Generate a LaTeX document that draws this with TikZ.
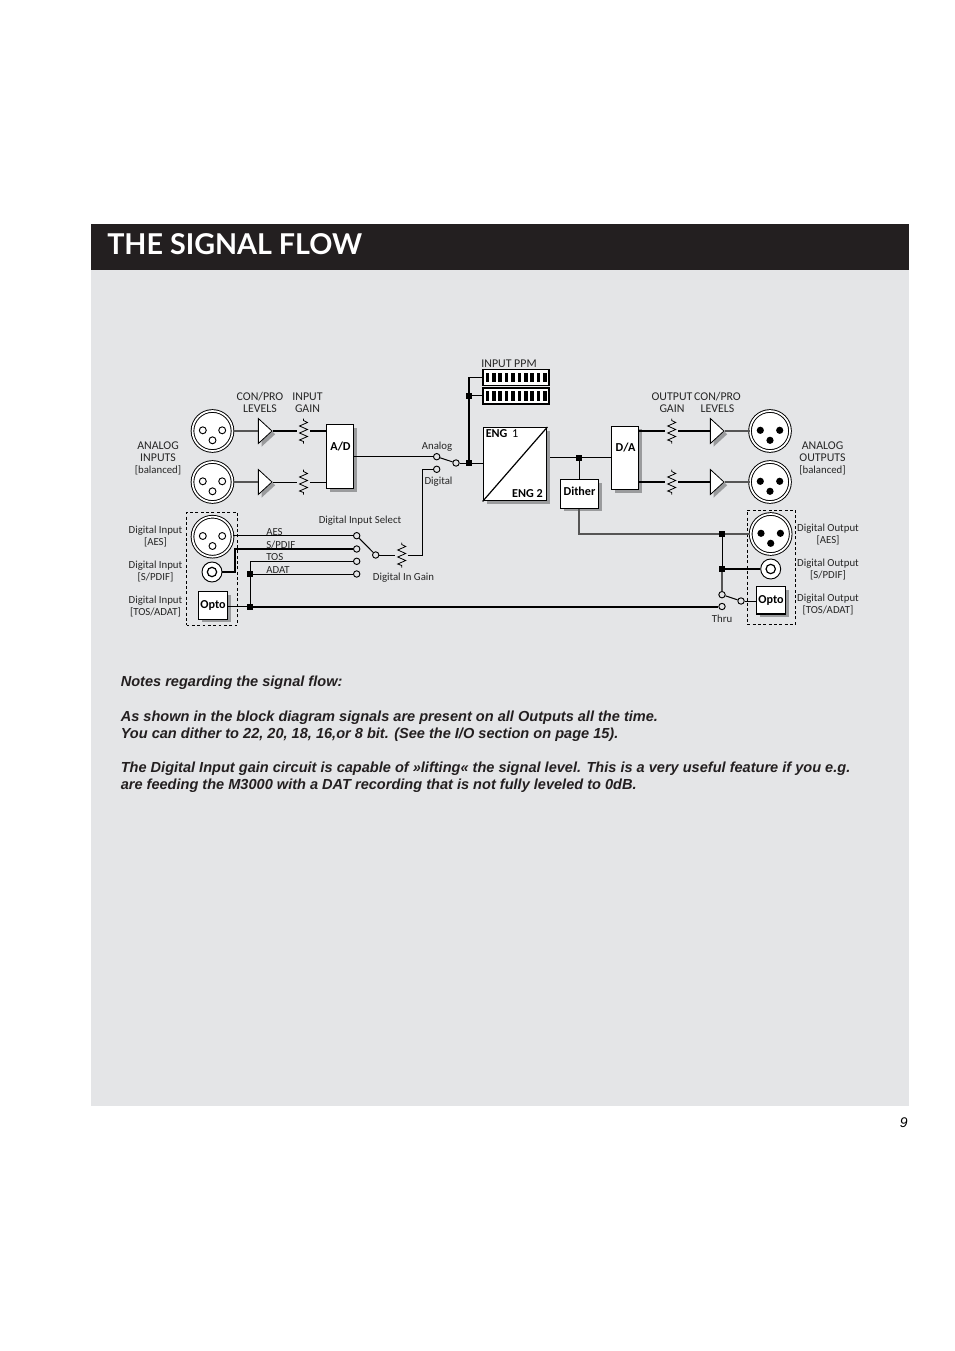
\documentclass[tikz,border=0pt]{standalone}
\usepackage{fontspec}
\setmainfont{Carlito}
\newfontfamily\notefont{Liberation Sans}
\newfontfamily\titlefont{Lato}
\usetikzlibrary{shapes.geometric,shadows,calc}
\definecolor{panel}{HTML}{E4E5E7}
\definecolor{titlebar}{HTML}{231F20}
\definecolor{shadowgray}{HTML}{9A9B9D}
\definecolor{wiregray}{HTML}{555555}
\newcommand{\capsz}[1]{{\fontsize{8.9}{9}\selectfont #1}}
\newcommand{\boldlabel}{\fontsize{9.1}{10}\selectfont\bfseries}
\tikzset{
  shad/.style={drop shadow={shadow xshift=2.4pt,shadow yshift=-2.4pt,fill=shadowgray,opacity=1}},
  lbl/.style={font=\fontsize{8.1}{9}\selectfont,align=center,inner sep=0pt,text=black!85,yshift=-.6pt},
  blockbox/.style={draw=black,fill=white,line width=.8pt,shad,inner sep=0pt,font=\boldlabel},
  boldtext/.style={font=\boldlabel,inner sep=0pt},
  amp/.style={draw=black,fill=white,line width=.6pt,isosceles triangle,isosceles triangle stretches,minimum width=18.75pt,minimum height=10.2pt,inner sep=0pt,anchor=apex,shad},
  xlrshell/.style={circle,draw=black,double=white,double distance=1.3pt,line width=.7pt,fill=white,minimum size=30pt,inner sep=0pt},
  coaxshell/.style={circle,draw=black,line width=.7pt,fill=white,minimum size=15pt,inner sep=0pt},
  pinin/.style={circle,draw=black,fill=white,line width=.7pt,minimum size=5.2pt,inner sep=0pt},
  pinout/.style={circle,fill=black,minimum size=5.4pt,inner sep=0pt},
  sw/.style={circle,draw=black,fill=panel,line width=.7pt,minimum size=4.8pt,inner sep=0pt},
  dot/.style={rectangle,fill=black,minimum size=4.5pt,inner sep=0pt},
  res/.style={minimum width=9pt,minimum height=18pt,inner sep=0pt},
  wire/.style={draw=black,line width=.75pt},
  wirethick/.style={draw=black,line width=1.5pt},
  wiregrey/.style={draw=wiregray,line width=1.1pt},
  dashbox/.style={draw=black,line width=.6pt,dash pattern=on 2.2pt off 1.8pt},
  ppmbox/.style={draw=black,fill=white,line width=1.1pt,inner sep=0pt,minimum width=49.5pt,minimum height=12pt},
  notetext/.style={font=\notefont\fontsize{10.92}{13}\selectfont\bfseries\itshape,anchor=base west,inner sep=0pt,text=titlebar},
}
\newcommand{\xlrconn}[4]{% name x y pinstyle
  \node[xlrshell] (#1) at (#2,#3) {};
  \node[#4] (#1a) at (#2-9.7,#3-0.7) {};
  \node[#4] (#1b) at (#2+9.7,#3-0.7) {};
  \node[#4] (#1c) at (#2,#3+9.3) {};
}
\newcommand{\coaxconn}[3]{%
  \node[coaxshell] (#1) at (#2,#3) {};
  \node[pinin,minimum size=7pt,line width=.9pt] (#1p) at (#2,#3) {};
}
\newcommand{\resistor}[3]{%
  \node[res] (#1) at (#2,#3) {};
  \draw[line width=.6pt,line join=miter] ($(#1)+(0,-12.5)$) -- ++(0,2) -- ++(4,2) -- ++(-8,3.5) -- ++(8,3.5) -- ++(-8,3.5) -- ++(8,3.5) -- ++(-8,3.5) -- ++(4,1.5) -- ++(0,2);
}
\begin{document}
\begin{tikzpicture}[x=.75pt,y=-.75pt]
\useasboundingbox (0,0) rectangle (954,1351);
\fill[white] (0,0) rectangle (954,1351);
\fill[panel] (91,270) rectangle (909,1105.5);
\fill[titlebar] (91,224) rectangle (909,270);
\node[font=\titlefont\fontsize{21.5}{24}\selectfont\bfseries,text=white,anchor=base west,inner sep=0pt] (title) at (107,255) {THE SIGNAL FLOW};

% analog in
\xlrconn{xa}{212.5}{431}{pinin}
\xlrconn{xb}{212.5}{482}{pinin}
\node[amp] (ta) at (273,431) {};
\node[amp] (tb) at (273,482) {};
\resistor{ra}{303.5}{431}
\resistor{rb}{303.5}{482}
\node[blockbox,minimum width=20pt,minimum height=48pt] (ad) at (340,456.5) {};
\node[boldtext] (adt) at (340.5,447) {A/D};
\draw[wiregrey] (xa.east) -- (ta.west);
\draw[wiregrey] (xb.east) -- (tb.west);
\draw[wirethick] (ta.apex) -- (ra.west);
\draw[wire] (tb.apex) -- (rb.west);
\draw[wirethick] (ra.east) -- (ad.west |- ra.east);
\draw[wire] (rb.east) -- (ad.west |- rb.east);

% input switch
\node[sw] (swa) at (436.7,456.7) {};
\node[sw] (swd) at (436.7,469.3) {};
\node[sw] (swo) at (456,463) {};
\node[dot] (jm) at (469,463) {};
\draw[wire] (ad.east |- swa) -- (swa.west);
\draw[wire] (swa) -- (swo);
\draw[wire] (swo.east) -- (jm);

% digital in
\node[dashbox,minimum width=38.25pt,minimum height=84.4pt,inner sep=0pt] (dibox) at (212,568.7) {};
\xlrconn{xd}{212.5}{536.7}{pinin}
\coaxconn{cd}{212}{572}
\node[blockbox,minimum width=22pt,minimum height=20.5pt] (od) at (213,605.5) {\raisebox{1.4pt}{Opto}};
\node[sw] (s1) at (356.7,535.7) {};
\node[sw] (s2) at (356.7,549) {};
\node[sw] (s3) at (356.7,561.3) {};
\node[sw] (s4) at (356.7,574) {};
\node[sw] (so) at (375.7,555) {};
\resistor{rd}{401.7}{555}
\node[dot] (j1) at (250,574) {};
\node[dot] (j2) at (250,606.5) {};
\draw[wire] (xd.east |- s1) -- (s1.west);
\draw[wirethick] (cd.east) -- (234.5,572) -- (234.5,549) -- (s2.west);
\draw[wire] (j2.center) -- (250,561.3) -- (s3.west);
\draw[wire] (j1) -- (s4.west);
\draw[wire] (od.east |- j2) -- (j2);
\draw[wire] (s1) -- (so);
\draw[wire] (so.east) -- (rd.west);
\draw[wire] (rd.east) -- (422.7,555) -- (422.7,469.3) -- (swd.west);

% PPM
\node[ppmbox] (ppma) at (515.8,377.3) {};
\node[ppmbox] (ppmb) at (515.8,395.8) {};
\foreach \i in {0,...,9}{
  \fill (485.5+\i*6.4,372.8) rectangle ++(3.6,9.6);
  \fill (485.5+\i*6.4,391) rectangle ++(3.6,9.6);
}
\node[dot] (jp) at (469,395.8) {};
\draw[wire,line width=1pt] (jm) -- (469,377.3) -- (ppma.west);
\draw[wire,line width=1pt] (jp) -- (ppmb.west);

% engines
\node[blockbox,line width=1.1pt,minimum width=47.5pt,minimum height=54.7pt] (eng) at (515,464.2) {};
\draw[wire,line width=.9pt] (eng.south west) -- (eng.north east);
\draw[wire] (jm) -- (eng.west |- jm);
\node[boldtext,anchor=base west] (e1) at (485.5,437.5) {ENG \mdseries\,1};
\node[boldtext,anchor=base east] (e2) at (543,497.5) {ENG 2};

% D/A, dither
\node[blockbox,minimum width=20.5pt,minimum height=47.3pt] (da) at (625,457.8) {};
\node[boldtext] (dat) at (625.5,448) {D/A};
\node[dot] (jd) at (579,457.5) {};
\node[blockbox,minimum width=28.8pt,minimum height=21.4pt] (dith) at (579.5,494) {};
\node[boldtext] (ditht) at (579.5,491) {Dither};
\draw[wire] ($(eng.east |- jd)+(3,0)$) -- (jd) -- (da.west |- jd);
\draw[wire] (jd) -- (dith.north -| jd);

% analog out
\xlrconn{xe}{770}{431}{pinout}
\xlrconn{xf}{770}{482}{pinout}
\node[amp] (te) at (725,431) {};
\node[amp] (tf) at (725,482) {};
\resistor{re}{671.7}{431}
\resistor{rf}{671.7}{482}
\draw[wirethick] (da.east |- re.west) -- (re.west);
\draw[wirethick] (da.east |- rf.west) -- (rf.west);
\draw[wirethick,line width=1.3pt] (re.east) -- (te.west);
\draw[wirethick,line width=1.3pt] (rf.east) -- (tf.west);
\draw[wiregrey] (te.apex) -- (xe.west);
\draw[wiregrey] (tf.apex) -- (xf.west);

% digital out
\node[dashbox,minimum width=36.3pt,minimum height=85.7pt,inner sep=0pt] (dobox) at (771.5,567.2) {};
\xlrconn{xo}{770.7}{534}{pinout}
\coaxconn{co}{770.7}{569}
\node[blockbox,minimum width=22pt,minimum height=20.5pt] (oo) at (771,600.3) {\raisebox{1.4pt}{Opto}};
\node[dot] (j3) at (722,534) {};
\node[dot] (j4) at (722,569) {};
\node[sw] (t1) at (722,594.7) {};
\node[sw] (t2) at (722,606.5) {};
\node[sw] (to) at (741,601) {};
\draw[wiregrey] (dith.south -| jd) |- (j3) -- (xo.west);
\draw[wire] (j3) -- (j4);
\draw[wiregrey] (j4) -- (t1.north);
\draw[wirethick] (j4) -- (co.west);
\draw[wire] (t1) -- (to);
\draw[wire] (to.east) -- (oo.west |- to);
\draw[wirethick] (j2) -- (t2.west);

% labels
\node[lbl] (l1) at (260,402) {\capsz{CON/PRO}\\\capsz{LEVELS}};
\node[lbl] (l2) at (307.5,402) {\capsz{INPUT}\\\capsz{GAIN}};
\node[lbl] (l3) at (158,457.5) {\capsz{ANALOG}\\\capsz{INPUTS}\\{[balanced]}};
\node[lbl] (l4) at (437,446) {Analog};
\node[lbl] (l5) at (438.5,480.5) {Digital};
\node[lbl] (l6) at (509,363) {\capsz{INPUT PPM}};
\node[lbl] (l7) at (672,402) {\capsz{OUTPUT}\\\capsz{GAIN}};
\node[lbl] (l8) at (717.5,402) {\capsz{CON/PRO}\\\capsz{LEVELS}};
\node[lbl] (l9) at (822.5,457.5) {\capsz{ANALOG}\\\capsz{OUTPUTS}\\{[balanced]}};
\node[lbl] (l10) at (155.5,536) {Digital Input\\{[AES]}};
\node[lbl] (l11) at (155.5,571) {Digital Input\\{[S/PDIF]}};
\node[lbl] (l12) at (155.5,606) {Digital Input\\{[TOS/ADAT]}};
\node[lbl] (l13) at (828,533.5) {Digital Output\\{[AES]}};
\node[lbl] (l14) at (828,568.5) {Digital Output\\{[S/PDIF]}};
\node[lbl] (l15) at (828,603.5) {Digital Output\\{[TOS/ADAT]}};
\node[lbl,anchor=west] (l16) at (266,531.5) {AES};
\node[lbl,anchor=west] (l17) at (266,544) {S/PDIF};
\node[lbl,anchor=west] (l18) at (266,556.5) {TOS};
\node[lbl,anchor=west] (l19) at (266,569) {ADAT};
\node[lbl] (l20) at (360,520) {Digital Input Select};
\node[lbl] (l21) at (403.5,576.5) {Digital In Gain};
\node[lbl] (l22) at (722,618) {Thru};

% notes
\node[notetext] (n1) at (120.5,686) {Notes regarding the signal flow:};
\node[notetext] (n2) at (120.5,721) {As shown in the block diagram signals are present on all Outputs all the time.};
\node[notetext] (n3) at (120.5,738) {You can dither to 22, 20, 18, 16,or 8 bit. (See the I/O section on page 15).};
\node[notetext] (n4) at (120.5,772.5) {The Digital Input gain circuit is capable of »lifting« the signal level. This is a very useful feature if you e.g.};
\node[notetext] (n5) at (120.5,789.5) {are feeding the M3000 with a DAT recording that is not fully leveled to 0dB.};
\node[font=\notefont\fontsize{10.5}{12}\selectfont\itshape,anchor=base east,inner sep=0pt] (pg) at (908,1127) {9};
\end{tikzpicture}
\end{document}
